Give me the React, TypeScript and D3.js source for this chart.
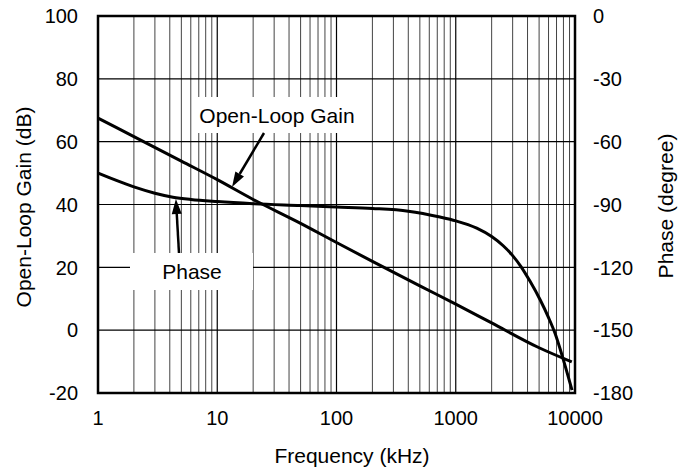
import * as d3 from "d3";

// frequency axis (kHz)
const freqTicks = [1, 10, 100, 1000, 10000];
const gainTicks = [-20, 0, 20, 40, 60, 80, 100];
const phaseTicks = [-180, -150, -120, -90, -60, -30, 0];

// open-loop gain (dB)
const gainFreq = [1, 2, 5, 10, 20, 50, 100, 200, 500, 1000, 2000, 5000, 9400];
const gainDb = [67.5, 61.6, 53.8, 47.9, 41.6, 34.0, 27.9, 21.9, 14.1, 8.3, 2.3, -5.6, -10.1];

// phase (degree)
const phaseFreq = [1, 1.5, 2, 3, 4.25, 6, 10, 20, 50, 100, 200, 400, 738, 1000, 1500, 2000, 2500, 3000, 3500, 4200, 5100, 6000, 6800, 7900, 9440];
const phaseDeg = [-75, -79, -81.6, -84.6, -86.5, -87.6, -88.6, -89.6, -90.5, -91.2, -91.9, -93.2, -96, -97.8, -101.3, -105.3, -109.7, -114.4, -119.4, -126.7, -135.5, -144, -151.5, -163.2, -178.6];

const W = 691, H = 472;
const left = 98, right = 575, top = 16, bottom = 393;
const font = "'Liberation Sans', Arial, sans-serif";
const tickFs = 20;
const fs = 21;

export default function App() {
  const x = d3.scaleLog().domain([1, 10000]).range([left, right]);
  const yL = d3.scaleLinear().domain([-20, 100]).range([bottom, top]);
  const yR = d3.scaleLinear().domain([-180, 0]).range([bottom, top]);

  const minor: number[] = [];
  for (const d of [1, 10, 100, 1000]) for (let k = 2; k <= 9; k++) minor.push(d * k);

  const gainLine = d3.line<number>()
    .x((_, i) => x(gainFreq[i]))
    .y(d => yL(d))
    .curve(d3.curveMonotoneX)(gainDb) as string;
  const phaseLine = d3.line<number>()
    .x((_, i) => x(phaseFreq[i]))
    .y(d => yR(d))
    .curve(d3.curveMonotoneX)(phaseDeg) as string;

  // arrows: from label box to a point on the curve
  const arrow = (x1: number, y1: number, x2: number, y2: number) => {
    const a = Math.atan2(y2 - y1, x2 - x1);
    const len = 15, hw = 5;
    const bx = x2 - len * Math.cos(a), by = y2 - len * Math.sin(a);
    const px = -Math.sin(a) * hw, py = Math.cos(a) * hw;
    return (
      <g>
        <line x1={x1} y1={y1} x2={bx} y2={by} stroke="#000" strokeWidth={2.5} />
        <polygon points={`${x2},${y2} ${bx + px},${by + py} ${bx - px},${by - py}`} fill="#000" />
      </g>
    );
  };

  return (
    <svg width={W} height={H} style={{ position: "absolute", left: 0, top: 0, background: "#fff" }} fontFamily={font}>
      {/* grid */}
      {minor.map(f => (
        <line key={"m" + f} x1={x(f)} x2={x(f)} y1={top} y2={bottom} stroke="#444" strokeWidth={1} />
      ))}
      {freqTicks.slice(1, -1).map(f => (
        <line key={"M" + f} x1={x(f)} x2={x(f)} y1={top} y2={bottom} stroke="#000" strokeWidth={1.2} />
      ))}
      {gainTicks.slice(1, -1).map(g => (
        <line key={"h" + g} x1={left} x2={right} y1={yL(g)} y2={yL(g)} stroke="#000" strokeWidth={1.2} />
      ))}

      {/* label boxes */}
      <rect x={193} y={97} width={172} height={36} fill="#fff" />
      <rect x={130} y={253} width={123} height={37} fill="#fff" />

      {/* curves */}
      <path d={gainLine} fill="none" stroke="#000" strokeWidth={3} />
      <path d={phaseLine} fill="none" stroke="#000" strokeWidth={3} />

      <rect x={left} y={top} width={right - left} height={bottom - top} fill="none" stroke="#000" strokeWidth={2.5} />

      {/* annotations */}
      <text x={277} y={123} textAnchor="middle" fontSize={fs}>Open-Loop Gain</text>
      {arrow(264, 133, x(13.3), yL(45.6))}
      <text x={192} y={279} textAnchor="middle" fontSize={fs}>Phase</text>
      {arrow(179, 253, x(4.5), yR(-86.4) + 2)}

      {/* tick labels */}
      {freqTicks.map(f => (
        <text key={"xt" + f} x={x(f)} y={425} textAnchor="middle" fontSize={tickFs}>{f}</text>
      ))}
      {gainTicks.map(g => (
        <text key={"yl" + g} x={78} y={yL(g)} dy="0.36em" textAnchor="end" fontSize={tickFs}>{g}</text>
      ))}
      {phaseTicks.map(p => (
        <text key={"yr" + p} x={593} y={yR(p)} dy="0.36em" textAnchor="start" fontSize={tickFs}>{p}</text>
      ))}

      {/* axis titles */}
      <text x={352} y={463} textAnchor="middle" fontSize={fs}>Frequency (kHz)</text>
      <text transform="translate(31,207) rotate(-90)" textAnchor="middle" fontSize={fs}>Open-Loop Gain (dB)</text>
      <text transform="translate(673,206) rotate(-90)" textAnchor="middle" fontSize={fs}>Phase (degree)</text>
    </svg>
  );
}
